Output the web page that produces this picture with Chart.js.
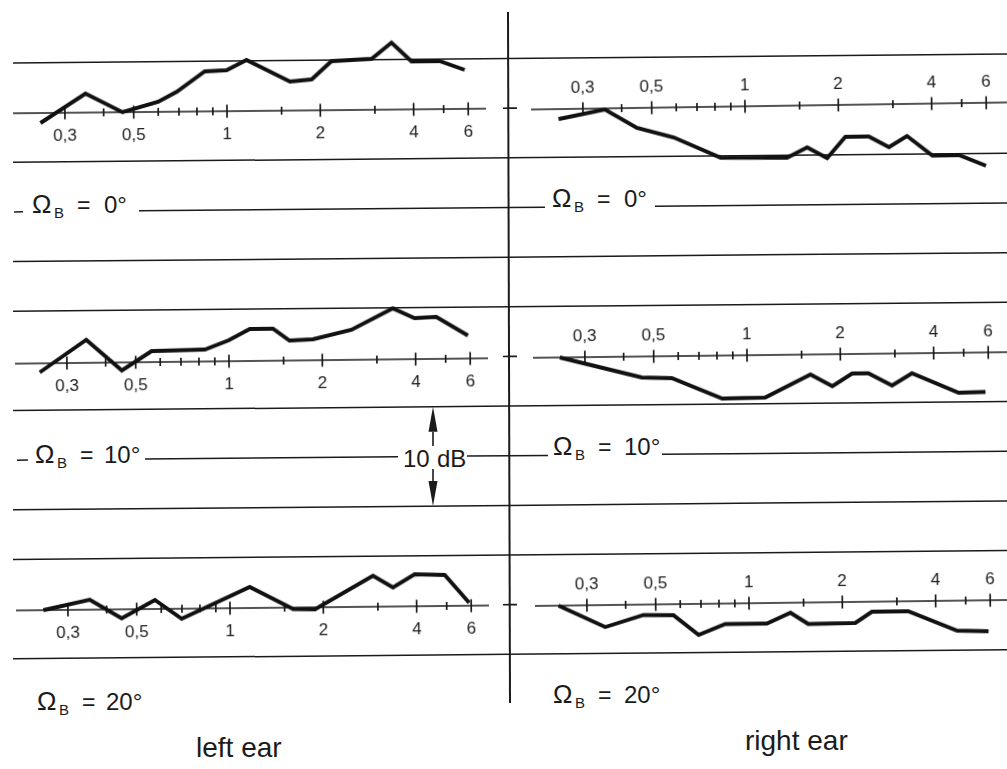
<!DOCTYPE html>
<html>
<head>
<meta charset="utf-8">
<script src="https://cdn.jsdelivr.net/npm/chart.js@4.4.1/dist/chart.umd.min.js"></script>
<style>
  html, body { margin: 0; padding: 0; background: #fff; }
  #sheet { position: relative; width: 1007px; height: 769px; overflow: hidden; background: #fff; }
  #ruling { position: absolute; left: 0; top: 0; }
  #sheet canvas { position: absolute; }
</style>
</head>
<body>
<div id="sheet">
  <svg id="ruling" width="1007" height="769" xmlns="http://www.w3.org/2000/svg"></svg>
  <canvas id="left0" width="476" height="160"></canvas>
  <canvas id="right0" width="479" height="160"></canvas>
  <canvas id="left10" width="476" height="160"></canvas>
  <canvas id="right10" width="477" height="160"></canvas>
  <canvas id="left20" width="476" height="160"></canvas>
  <canvas id="right20" width="475" height="160"></canvas>
</div>
<script>
// frequency in kHz, level in dB relative to the 0 dB axis line
const freqLeft0 = [0.25, 0.35, 0.46, 0.6, 0.69, 0.85, 1.0, 1.16, 1.6, 1.88, 2.18, 2.94, 3.41, 3.95, 4.87, 5.86];
const dbLeft0   = [-1.0, 1.9, 0.0, 1.0, 2.0, 4.0, 4.1, 5.1, 2.9, 3.1, 4.9, 5.1, 6.7, 4.8, 4.8, 3.9];

const freqRight0 = [0.25, 0.353, 0.447, 0.587, 0.83, 1.36, 1.58, 1.83, 2.1, 2.5, 2.9, 3.32, 4.0, 4.88, 5.95];
const dbRight0   = [-1.0, -0.1, -2.0, -3.0, -5.1, -5.2, -4.2, -5.3, -3.2, -3.2, -4.3, -3.2, -5.2, -5.2, -6.3];

const freqLeft10 = [0.245, 0.347, 0.451, 0.563, 0.837, 1.0, 1.17, 1.39, 1.57, 1.87, 2.49, 3.39, 3.98, 4.68, 5.91];
const dbLeft10   = [-0.9, 2.3, -0.8, 1.1, 1.2, 2.1, 3.2, 3.2, 2.0, 2.1, 3.0, 5.1, 4.1, 4.2, 2.3];

const freqRight10 = [0.249, 0.457, 0.571, 0.829, 1.14, 1.6, 1.88, 2.18, 2.46, 2.93, 3.4, 4.8, 5.86];
const dbRight10   = [0.0, -2.1, -2.2, -4.3, -4.25, -2.0, -3.2, -1.95, -1.95, -3.2, -2.0, -4.0, -3.95];

const freqLeft20 = [0.25, 0.353, 0.447, 0.573, 0.698, 1.16, 1.6, 1.88, 2.9, 3.36, 3.95, 4.94, 5.91];
const dbLeft20   = [0.0, 1.0, -0.9, 0.9, -1.0, 2.1, -0.15, -0.2, 3.1, 1.9, 3.2, 3.1, 0.3];

const freqRight20 = [0.243, 0.343, 0.456, 0.57, 0.686, 0.837, 1.14, 1.36, 1.55, 2.2, 2.49, 3.26, 4.68, 5.91];
const dbRight20   = [0.0, -2.2, -1.05, -1.1, -3.1, -2.05, -2.05, -1.0, -2.15, -2.1, -1.0, -1.0, -3.0, -3.1];

// frequency axis ticks (kHz)
const tickFreqs = [0.3, 0.4, 0.5, 0.6, 0.7, 0.8, 0.9, 1, 1.5, 2, 3, 4, 5, 6];
const labelFreqs = [0.3, 0.5, 1, 2, 4, 6];
const tickLabels = ['0,3', '0,5', '1', '2', '4', '6'];

const INK = '#1b1b1b';
const PX_PER_DECADE = 310;

// draws the 0 dB line with its crossing ticks and the kHz numbers
const freqAxis = {
  id: 'freqAxis',
  beforeDatasetsDraw(chart, args, opts) {
    const { ctx, chartArea, scales: { x, y } } = chart;
    const y0 = y.getPixelForValue(0);
    ctx.save();
    ctx.strokeStyle = INK;
    ctx.lineWidth = 1.7;
    ctx.beginPath();
    ctx.moveTo(chartArea.left + (opts.startGap || 0), y0);
    ctx.lineTo(chartArea.right, y0);
    ctx.stroke();

    ctx.lineWidth = 1.7;
    tickFreqs.forEach(f => {
      const px = x.getPixelForValue(f);
      const len = labelFreqs.includes(f) ? 6.5 : 4;
      ctx.beginPath();
      ctx.moveTo(px, y0 - len);
      ctx.lineTo(px, y0 + len);
      ctx.stroke();
    });

    ctx.fillStyle = INK;
    ctx.font = '17px "Liberation Sans Narrow", "Liberation Sans", sans-serif';
    ctx.textAlign = 'center';
    ctx.textBaseline = 'middle';
    const dy = opts.labelsAbove ? -21 : 23;
    labelFreqs.forEach((f, i) => {
      ctx.fillText(tickLabels[i], x.getPixelForValue(f), y0 + dy);
    });
    ctx.restore();
  }
};

const panels = [
  { id: 'left0',   left: 10,  axisY: 111,   x1k: 227, tilt: -0.56, above: false, freq: freqLeft0,   db: dbLeft0 },
  { id: 'right0',  left: 528, axisY: 105.5, x1k: 745, tilt: -0.85, above: true,  freq: freqRight0,  db: dbRight0 },
  { id: 'left10',  left: 12,  axisY: 361,   x1k: 229, tilt: -0.65, above: false, freq: freqLeft10,  db: dbLeft10 },
  { id: 'right10', left: 530, axisY: 354.5, x1k: 747, tilt: -0.68, above: true,  freq: freqRight10, db: dbRight10 },
  { id: 'left20',  left: 13,  axisY: 608.3, x1k: 230, tilt: -0.6,  above: false, freq: freqLeft20,  db: dbLeft20 },
  { id: 'right20', left: 532, axisY: 603,   x1k: 749, tilt: -0.72, above: true,  freq: freqRight20, db: dbRight20 }
];

panels.forEach(p => {
  const canvas = document.getElementById(p.id);
  const w = canvas.width, h = canvas.height;
  canvas.style.left = p.left + 'px';
  canvas.style.top = (p.axisY - h / 2) + 'px';
  canvas.style.transform = 'rotate(' + p.tilt + 'deg)';

  // 1 kHz sits at x1k on the page, 310 px per decade
  const minF = Math.pow(10, (p.left - p.x1k) / PX_PER_DECADE);
  const maxF = Math.pow(10, (p.left + w - p.x1k) / PX_PER_DECADE);

  new Chart(canvas.getContext('2d'), {
    type: 'line',
    data: {
      datasets: [{
        data: p.freq.map((f, i) => ({ x: f, y: p.db[i] })),
        borderColor: '#111',
        borderWidth: 3.9,
        borderJoinStyle: 'miter',
        pointRadius: 0,
        tension: 0,
        fill: false
      }]
    },
    options: {
      responsive: false,
      animation: false,
      devicePixelRatio: 1,
      layout: { padding: 0 },
      plugins: {
        legend: { display: false },
        tooltip: { enabled: false },
        freqAxis: { labelsAbove: p.above, startGap: 3 }
      },
      scales: {
        x: { type: 'logarithmic', min: minF, max: maxF, display: false },
        y: { type: 'linear', min: -8, max: 8, display: false }
      }
    },
    plugins: [freqAxis]
  });
});

// ruled form: lines every 5 dB, the labels and the 10 dB marker
const svg = document.getElementById('ruling');
const NS = 'http://www.w3.org/2000/svg';
const rowY = (k, x) => 63 + 49.65 * k - 0.009 * (x - 13);

function seg(k, x1, x2, width) {
  const l = document.createElementNS(NS, 'line');
  l.setAttribute('x1', x1); l.setAttribute('y1', rowY(k, x1));
  l.setAttribute('x2', x2); l.setAttribute('y2', rowY(k, x2));
  l.setAttribute('stroke', INK);
  l.setAttribute('stroke-width', width || 1.5);
  svg.appendChild(l);
}

[0, 2, 4, 5, 7, 9, 10, 12].forEach(k => seg(k, 13, 1007));
// angle label rows
[[14, 23], [139, 545], [655, 1007]].forEach(s => seg(3, s[0], s[1]));
[[17, 28], [145, 398], [467, 548], [662, 1007]].forEach(s => seg(8, s[0], s[1]));
// axis marks on the divider
[1, 6, 11].forEach(k => seg(k, 503, 517, 1.7));

// divider between the ears
const div = document.createElementNS(NS, 'line');
div.setAttribute('x1', 508); div.setAttribute('y1', 12);
div.setAttribute('x2', 510); div.setAttribute('y2', 703);
div.setAttribute('stroke', INK); div.setAttribute('stroke-width', 2);
svg.appendChild(div);

// 10 dB arrows
function arrow(x, yTip, yTail) {
  const dir = yTail > yTip ? 1 : -1;
  const head = 25;
  const shaft = document.createElementNS(NS, 'line');
  shaft.setAttribute('x1', x); shaft.setAttribute('y1', yTip + dir * head);
  shaft.setAttribute('x2', x); shaft.setAttribute('y2', yTail);
  shaft.setAttribute('stroke', INK); shaft.setAttribute('stroke-width', 1.6);
  svg.appendChild(shaft);
  const tri = document.createElementNS(NS, 'polygon');
  tri.setAttribute('points', [x, yTip, x - 4.5, yTip + dir * head, x + 4.5, yTip + dir * head].join(' '));
  tri.setAttribute('fill', INK);
  svg.appendChild(tri);
}
arrow(433, rowY(7, 433), 446);
arrow(433, rowY(9, 433), 469);

function text(str, x, y, size, family) {
  const t = document.createElementNS(NS, 'text');
  t.setAttribute('x', x); t.setAttribute('y', y);
  t.setAttribute('font-size', size);
  t.setAttribute('font-family', family || '"Liberation Sans", Arial, sans-serif');
  t.setAttribute('fill', INK);
  t.textContent = str;
  svg.appendChild(t);
}

function angleLabel(x, base, value, valueX) {
  text('\u03A9', x, base, 26);
  text('B', x + 22, base + 5, 15);
  text('=', x + 45, base, 23);
  text(value, valueX, base, 24);
}
angleLabel(32, 213, '0\u00B0', 104);
angleLabel(552, 207, '0\u00B0', 624);
angleLabel(35, 463, '10\u00B0', 104);
angleLabel(553, 455, '10\u00B0', 624);
angleLabel(37, 710, '20\u00B0', 106);
angleLabel(553, 703, '20\u00B0', 624);

text('10', 403, 467, 24);
text('dB', 437, 467, 24);

text('left ear', 196, 757, 28);
text('right ear', 745, 750, 28);
</script>
</body>
</html>
